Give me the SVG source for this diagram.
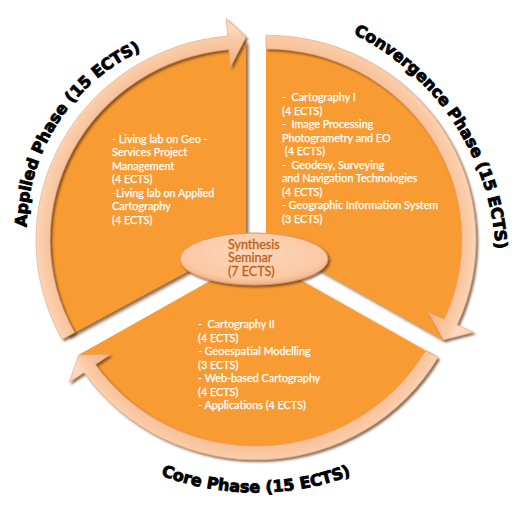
<svg xmlns="http://www.w3.org/2000/svg" width="518" height="505" viewBox="0 0 518 505">
<style>
.wedge{fill:#F89B31;filter:url(#sh)}
.band{stroke:#E3A57A;stroke-width:0.6;filter:url(#sh2)}
.t{font-family:Lato,"Open Sans",sans-serif;font-size:10.8px;fill:#FFFFFF;stroke:#FFFFFF;stroke-width:0.25;white-space:pre}
.c{font-family:Lato,"Open Sans",sans-serif;font-size:12.5px;fill:#B95F17;stroke:#B95F17;stroke-width:0.3}
.lab{font-family:"DejaVu Sans",sans-serif;font-weight:bold;font-size:16px;fill:#000000;stroke:#000;stroke-width:0.9}
</style>
<defs>
<filter id="sh" x="-10%" y="-10%" width="120%" height="120%">
<feDropShadow dx="2.5" dy="2.5" stdDeviation="1.4" flood-color="#6B3A10" flood-opacity="0.75"/>
</filter>
<filter id="sh2" x="-10%" y="-10%" width="120%" height="120%">
<feDropShadow dx="2" dy="2" stdDeviation="1.3" flood-color="#5A3010" flood-opacity="0.7"/>
</filter>
<radialGradient id="gL" gradientUnits="userSpaceOnUse" cx="246" cy="240" r="228">
<stop offset="0.78" stop-color="#F4B283"/><stop offset="0.86" stop-color="#F9C49E"/><stop offset="0.9" stop-color="#FBCDAA"/><stop offset="0.93" stop-color="#FDDAC2"/><stop offset="1" stop-color="#FCCFAD"/>
</radialGradient>
<radialGradient id="gR" gradientUnits="userSpaceOnUse" cx="266" cy="240" r="228">
<stop offset="0.78" stop-color="#F4B283"/><stop offset="0.86" stop-color="#F9C49E"/><stop offset="0.9" stop-color="#FBCDAA"/><stop offset="0.93" stop-color="#FDDAC2"/><stop offset="1" stop-color="#FCCFAD"/>
</radialGradient>
<radialGradient id="gB" gradientUnits="userSpaceOnUse" cx="256" cy="255" r="228">
<stop offset="0.78" stop-color="#F4B283"/><stop offset="0.86" stop-color="#F9C49E"/><stop offset="0.9" stop-color="#FBCDAA"/><stop offset="0.93" stop-color="#FDDAC2"/><stop offset="1" stop-color="#FCCFAD"/>
</radialGradient>
<radialGradient id="gE" cx="0.5" cy="0.4" r="0.6">
<stop offset="0" stop-color="#FDD6BA"/><stop offset="0.8" stop-color="#FBC9A4"/><stop offset="1" stop-color="#F2B084"/>
</radialGradient>
<path id="pA" d="M38.4,297.5 A197.5,197.5 0 0 1 210.2,33"/>
<path id="pC" d="M282.9,10.5 A258.4,258.4 0 0 1 489.8,323.1"/>
<path id="pK" d="M120.7,456.3 A270.6,270.6 0 0 0 391.3,456.3"/>
</defs>

<g id="node-applied">
<path class="wedge" d="M246,240 L246,41 A204,199 0 0 0 67.6,336.5 Z"/>
<text class="t"><tspan x="112" y="142.5">- Living lab on Geo -</tspan><tspan x="112" y="156">Services Project</tspan><tspan x="112" y="169.5">Management</tspan><tspan x="112" y="183">(4 ECTS)</tspan><tspan x="112" y="196.5">-Living lab on Applied</tspan><tspan x="112" y="210">Cartography</tspan><tspan x="112" y="223.5">(4 ECTS)</tspan></text>
</g>

<g id="node-convergence">
<path class="wedge" d="M266,240 L266,41 A204,199 0 0 1 442.7,339.5 Z"/>
<text class="t"><tspan x="282" y="101">-  Cartography I</tspan><tspan x="282" y="114.5">(4 ECTS)</tspan><tspan x="282" y="128">-  Image Processing</tspan><tspan x="282" y="141.5">Photogrametry and EO</tspan><tspan x="282" y="155"> (4 ECTS)</tspan><tspan x="282" y="168.5">-  Geodesy, Surveying</tspan><tspan x="282" y="182">and Navigation Technologies</tspan><tspan x="282" y="195.5">(4 ECTS)</tspan><tspan x="282" y="209">- Geographic Information System</tspan><tspan x="282" y="222.5">(3 ECTS)</tspan></text>
</g>

<g id="node-core">
<path class="wedge" d="M256,255 L432.7,354.5 A204,199 0 0 1 79.3,354.5 Z"/>
<text class="t"><tspan x="198" y="328.3">-  Cartography II</tspan><tspan x="198" y="341.8">(4 ECTS)</tspan><tspan x="198" y="355.3">- Geoespatial Modelling</tspan><tspan x="198" y="368.8">(3 ECTS)</tspan><tspan x="198" y="382.3">- Web-based Cartography</tspan><tspan x="198" y="395.8">(4 ECTS)</tspan><tspan x="198" y="409.3">- Applications (4 ECTS)</tspan></text>
</g>

<g id="connectors">
<path class="band" fill="url(#gL)" d="M62.3,339.3 A210,204.8 0 0 1 227.7,36 L226.1,18.5 L246,37 L230.5,67.1 L228.9,49.6 A196,191.1 0 0 0 74.6,332.6 Z"/>
<path class="band" fill="url(#gR)" d="M266,35.2 A210,204.8 0 0 1 457.1,324.9 L473.5,332.2 L443.5,339.9 L428,312 L444.4,319.2 A196,191.1 0 0 0 266,48.9 Z"/>
<path class="band" fill="url(#gB)" d="M437.9,357.4 A210,204.8 0 0 1 84,372.5 L69.2,382.5 L78.5,354.9 L110.2,354.6 L95.4,364.6 A196,191.1 0 0 0 425.7,350.6 Z"/>
</g>

<g id="node-synthesis">
<ellipse cx="254" cy="259" rx="74" ry="26" fill="url(#gE)" stroke="#D89A6C" stroke-width="1" filter="url(#sh2)"/>
<text class="c"><tspan x="228" y="248.5">Synthesis</tspan><tspan x="228" y="262">Seminar</tspan><tspan x="228" y="275.5">(7 ECTS)</tspan></text>
</g>

<g id="labels">
<text class="lab"><textPath href="#pA" startOffset="50%" text-anchor="middle">Applied Phase (15 ECTS)</textPath></text>
<text class="lab"><textPath href="#pC" startOffset="50%" text-anchor="middle">Convergence Phase (15 ECTS)</textPath></text>
<text class="lab"><textPath href="#pK" startOffset="50%" text-anchor="middle">Core Phase (15 ECTS)</textPath></text>
</g>
</svg>
